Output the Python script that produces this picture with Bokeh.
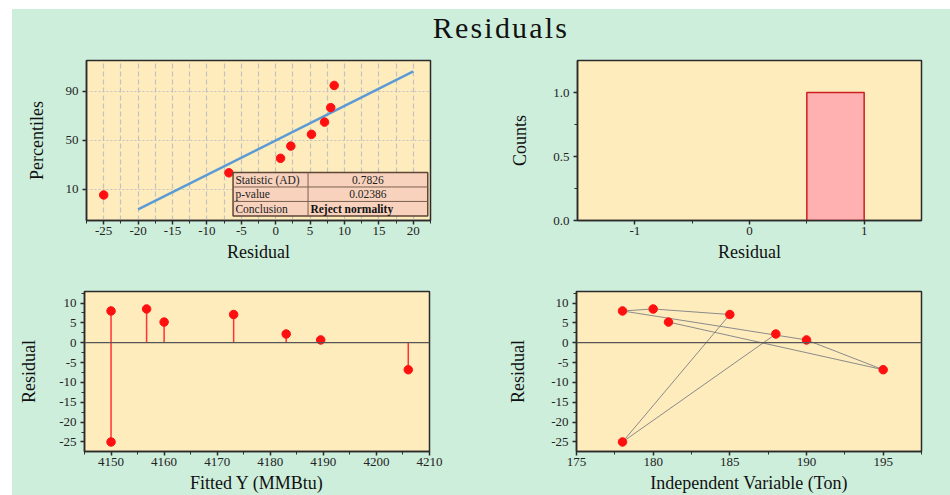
from statistics import NormalDist

from bokeh.core.properties import value
from bokeh.embed import file_html
from bokeh.layouts import column, row
from bokeh.models import (ColumnDataSource, CustomJSTickFormatter, Div, FixedTicker,
                          Range1d, SingleIntervalTicker, Span)
from bokeh.plotting import figure
from bokeh.resources import INLINE

# ---- data -------------------------------------------------------------------
# residuals in observation order
ton = [181, 195, 190, 178, 180, 185, 178, 188]
fitted_y = [4160.0, 4206.0, 4189.5, 4150.0, 4156.7, 4173.1, 4150.0, 4183.0]
residual = [5.2, -6.8, 0.7, 8.0, 8.5, 7.1, -25.0, 2.2]

# normal probability plot: plotting positions (percent) of the sorted residuals
prob_pct = [7.6, 19.7, 31.8, 43.9, 56.1, 68.2, 80.3, 92.4]
ref_x = [-20, 20]
ref_pct = [3.5, 96.4]
pct_ticks = [10, 50, 90]

# Anderson-Darling test summary
test_names = ["Statistic (AD)", "p-value", "Conclusion"]
test_values = ["0.7826", "0.02386", "Reject normality"]

# histogram of residuals
hist_left = [0.5]
hist_right = [1.0]
hist_count = [1]

# ---- styling ----------------------------------------------------------------
PAGE_BG = "#ceeedc"
PLOT_BG = "#ffecbd"
FRAME = "#2b2b2b"
SERIF = "Liberation Serif"
RED = "#ff1010"

nd = NormalDist()


def to_z(pct):
    return nd.inv_cdf(pct / 100.0)


# plain hyphen-minus tick labels
PLAIN = CustomJSTickFormatter(code="return String(Math.round(tick * 1000) / 1000);")
ONE_DEC = CustomJSTickFormatter(code="return tick.toFixed(1);")


def make_fig(width, height, borders, x_range, y_range, xlabel, ylabel,
             ylabel_standoff):
    left, right, top, bottom = borders
    p = figure(width=width, height=height, x_range=x_range, y_range=y_range,
               output_backend="svg", toolbar_location=None,
               min_border_left=left, min_border_right=right,
               min_border_top=top, min_border_bottom=bottom)
    p.background_fill_color = PLOT_BG
    p.border_fill_color = PAGE_BG
    p.outline_line_color = FRAME
    p.outline_line_width = 1.5
    p.grid.visible = False
    for ax in (p.xaxis[0], p.yaxis[0]):
        ax.axis_line_color = FRAME
        ax.axis_line_width = 1.5
        ax.major_tick_line_color = FRAME
        ax.major_tick_line_width = 1.5
        ax.minor_tick_line_color = FRAME
        ax.minor_tick_line_width = 1
        ax.major_tick_in = 0
        ax.major_tick_out = 4
        ax.minor_tick_in = 0
        ax.minor_tick_out = 3
        ax.major_label_text_font = SERIF
        ax.major_label_text_font_size = "13px"
        ax.major_label_text_color = "#222222"
        ax.axis_label_text_font = SERIF
        ax.axis_label_text_font_size = "18px"
        ax.axis_label_text_font_style = "normal"
        ax.axis_label_text_color = "#111111"
        ax.formatter = PLAIN
    p.xaxis.axis_label = xlabel
    p.yaxis.axis_label = ylabel
    p.xaxis.major_label_standoff = 2
    p.xaxis.axis_label_standoff = 4
    p.yaxis.major_label_standoff = 4
    p.yaxis.axis_label_standoff = ylabel_standoff
    return p


# ---- normal probability plot --------------------------------------------------
p1 = make_fig(478, 227, (74, 60, 15, 52), Range1d(-27.5, 22.5),
              Range1d(-2.10, 2.085), "Residual", "Percentiles", 16)
p1.xaxis.ticker = SingleIntervalTicker(interval=5, num_minor_ticks=2)
z_ticks = [to_z(v) for v in pct_ticks]
p1.yaxis.ticker = FixedTicker(ticks=z_ticks, minor_ticks=[])
p1.yaxis.formatter = CustomJSTickFormatter(
    args=dict(zt=z_ticks, labels=[str(v) for v in pct_ticks]),
    code="const i = zt.findIndex(t => Math.abs(t - tick) < 1e-6); return i >= 0 ? labels[i] : '';")

p1.xgrid.visible = True
p1.xgrid.ticker = SingleIntervalTicker(interval=2.5)
p1.xgrid.grid_line_color = "#c2c2c2"
p1.xgrid.grid_line_dash = "5 3"
p1.xgrid.grid_line_width = 1.2
p1.ygrid.visible = True
p1.ygrid.ticker = FixedTicker(ticks=z_ticks)
p1.ygrid.grid_line_color = "#c2c2c2"
p1.ygrid.grid_line_dash = "2 2"
p1.ygrid.grid_line_width = 1.2

sorted_resid = sorted(residual)
p1.line(ref_x, [to_z(v) for v in ref_pct], line_color="#5b9bd5", line_width=2.5)
p1.scatter(sorted_resid, [to_z(v) for v in prob_pct], size=8.5,
           fill_color=RED, line_color=RED)

# test summary table (data-space box in the lower right of the panel)
TBL_L, TBL_M, TBL_R = -6.2, 4.7, 22.1
TBL_TOP, TBL_BOT = -0.845, -1.98
row_h = (TBL_TOP - TBL_BOT) / len(test_names)
row_tops = [TBL_TOP - i * row_h for i in range(len(test_names))]
row_mid = [t - row_h / 2 for t in row_tops]
p1.quad(left=[TBL_L], right=[TBL_R], top=[TBL_TOP], bottom=[TBL_BOT],
        fill_color="#f8d2bd", line_color="#5e4636", line_width=1.5)
p1.segment(x0=[TBL_M], y0=[TBL_TOP], x1=[TBL_M], y1=[TBL_BOT],
           line_color="#7a6050", line_width=1)
p1.segment(x0=[TBL_L] * 2, y0=row_tops[1:], x1=[TBL_R] * 2, y1=row_tops[1:],
           line_color="#7a6050", line_width=1)
p1.text(x=[TBL_L + 0.35] * 3, y=row_mid, text=test_names,
        text_font=value(SERIF), text_font_size="11.5px", text_color="#222222",
        text_baseline="middle", text_align="left")
p1.text(x=[(TBL_M + TBL_R) / 2] * 2, y=row_mid[:2], text=test_values[:2],
        text_font=value(SERIF), text_font_size="11.5px", text_color="#222222",
        text_baseline="middle", text_align="center")
p1.text(x=[TBL_M + 0.35], y=row_mid[2:], text=test_values[2:],
        text_font=value(SERIF), text_font_size="11.5px", text_color="#111111",
        text_font_style="bold", text_baseline="middle", text_align="left")

# ---- histogram ----------------------------------------------------------------
p2 = make_fig(460, 227, (87, 29, 15, 52), Range1d(-1.5, 1.5),
              Range1d(0, 1.25), "Residual", "Counts", 20)
p2.xaxis.ticker = FixedTicker(ticks=[-1, 0, 1], minor_ticks=[-0.5, 0.5])
p2.yaxis.ticker = FixedTicker(ticks=[0, 0.5, 1.0], minor_ticks=[0.25, 0.75])
p2.yaxis.formatter = ONE_DEC
p2.quad(left=hist_left, right=hist_right, top=hist_count, bottom=0,
        fill_color="#ffb1b1", line_color="#cc2020", line_width=1.5)

# ---- residual vs fitted ---------------------------------------------------------
p3 = make_fig(478, 223, (72, 61, 19, 43), Range1d(4145, 4210),
              Range1d(-27.4, 12.9), "Fitted Y (MMBtu)", "Residual", 17)
p3.xaxis.ticker = SingleIntervalTicker(interval=10, num_minor_ticks=2)
p3.yaxis.ticker = SingleIntervalTicker(interval=5, num_minor_ticks=2)
p3.add_layout(Span(location=0, dimension="width", line_color="#555555",
                   line_width=1.3))
src3 = ColumnDataSource(dict(x=fitted_y, y=residual))
p3.segment(x0="x", y0=0, x1="x", y1="y", source=src3, line_color="#ff3333",
           line_width=1.5)
p3.scatter("x", "y", source=src3, size=8.5, fill_color=RED, line_color=RED)

# ---- residual vs independent variable ---------------------------------------------
p4 = make_fig(460, 223, (86, 29, 19, 43), Range1d(175, 197.5),
              Range1d(-27.4, 12.9), "Independent Variable (Ton)", "Residual", 20)
p4.xaxis.ticker = SingleIntervalTicker(interval=5, num_minor_ticks=2)
p4.yaxis.ticker = SingleIntervalTicker(interval=5, num_minor_ticks=2)
p4.add_layout(Span(location=0, dimension="width", line_color="#555555",
                   line_width=1.3))
src4 = ColumnDataSource(dict(x=ton, y=residual))
p4.line("x", "y", source=src4, line_color="#8a8a8a", line_width=1)
p4.scatter("x", "y", source=src4, size=8.5, fill_color=RED, line_color=RED)

# ---- page ---------------------------------------------------------------------
title = Div(text="Residuals", width=938, height=36, margin=0,
            styles={"background-color": PAGE_BG,
                    "font-family": SERIF, "font-size": "30px",
                    "letter-spacing": "2.2px", "color": "#111111",
                    "text-align": "center", "line-height": "38px",
                    "padding-left": "40px", "box-sizing": "border-box"})

layout = column(title, row(p1, p2, spacing=0), row(p3, p4, spacing=0),
                spacing=0, margin=(9, 0, 0, 12),
                styles={"background-color": PAGE_BG})

with open("out.html", "w") as f:
    f.write(file_html(layout, INLINE, title="Residuals"))
